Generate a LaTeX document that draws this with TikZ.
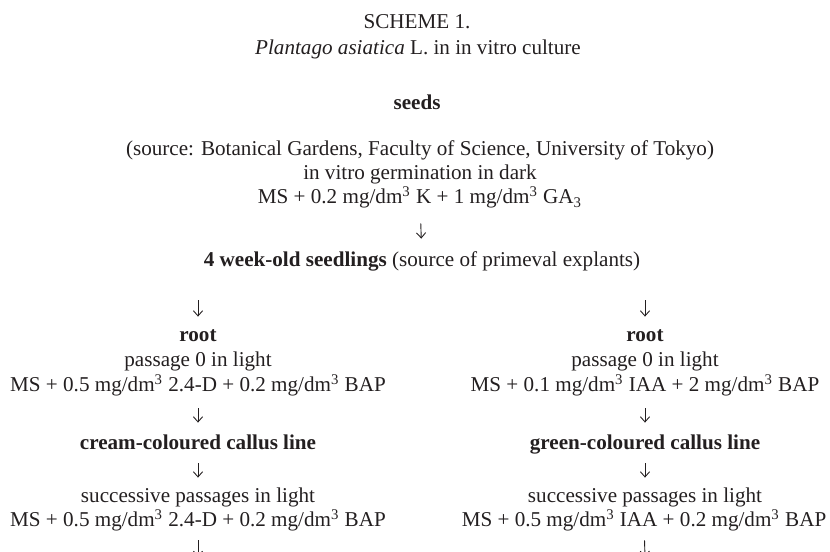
\documentclass[tikz,border=0pt]{standalone}
\usepackage{fontspec}
\setmainfont{Liberation Serif}
\usepackage{tikz}
\usetikzlibrary{arrows.meta}

\definecolor{ink}{RGB}{35,31,32}
\newcommand{\mgdm}{mg/dm\textsuperscript{3}}

\begin{document}
\begin{tikzpicture}[x=0.5bp, y=-0.5bp, >={Straight Barb[length=2.6bp, width=4.6bp]},
    txt/.style={inner sep=0pt, anchor=base, text height=7.5bp, text depth=2.5bp,
                text=ink, font=\fontsize{10.6}{12.5}\selectfont},
    flow/.style={->, draw=ink, line width=0.45bp}]
    \useasboundingbox (0,0) rectangle (830,552);

    % Title
    \node[txt] (title) at (417,29) {SCHEME 1.};
    \node[txt] (sub) at (418,55) {\textit{Plantago asiatica} L. in in vitro culture};

    % Seeds and germination
    \node[txt] (seeds) at (417,110) {\textbf{seeds}};
    \node[txt] (src) at (420,156) {(source: Botanical Gardens, Faculty of Science, University of Tokyo)};
    \node[txt] (germ) at (420,180) {in vitro germination in dark};
    \node[txt] (gmed) at (420,204) {MS + 0.2 \mgdm{} K + 1 \mgdm{} GA\textsubscript{3}};
    \node[txt] (seedl) at (422,267) {\textbf{4 week-old seedlings} (source of primeval explants)};
    \draw[flow, shorten <=7bp, shorten >=6.5bp] (gmed) -- (seedl);

    % Left branch
    \node[txt] (rootL) at (198,342) {\textbf{root}};
    \node[txt] (passL) at (198,367) {passage 0 in light};
    \node[txt] (msL) at (198,392) {MS + 0.5 \mgdm{} 2.4-D + 0.2 \mgdm{} BAP};
    \node[txt] (creamL) at (198,450) {\textbf{cream-coloured callus line}};
    \node[txt] (succL) at (198,503) {successive passages in light};
    \node[txt] (msL2) at (198,527) {MS + 0.5 \mgdm{} 2.4-D + 0.2 \mgdm{} BAP};
    \coordinate (endL) at (198,557);

    % Right branch
    \node[txt] (rootR) at (645,342) {\textbf{root}};
    \node[txt] (passR) at (645,367) {passage 0 in light};
    \node[txt] (msR) at (645,392) {MS + 0.1 \mgdm{} IAA + 2 \mgdm{} BAP};
    \node[txt] (greenR) at (645,450) {\textbf{green-coloured callus line}};
    \node[txt] (succR) at (645,503) {successive passages in light};
    \node[txt] (msR2) at (644,527) {MS + 0.5 \mgdm{} IAA + 0.2 \mgdm{} BAP};
    \coordinate (endR) at (645,557);

    % Arrows down both branches
    \draw[flow, shorten <=14bp, shorten >=5bp] (seedl.south -| rootL) -- (rootL);
    \draw[flow, shorten <=14bp, shorten >=5bp] (seedl.south -| rootR) -- (rootR);
    \draw[flow, shorten <=5.5bp, shorten >=6bp] (msL) -- (creamL);
    \draw[flow, shorten <=5.5bp, shorten >=6bp] (msR) -- (greenR);
    \draw[flow, shorten <=4bp, shorten >=5bp] (creamL) -- (succL);
    \draw[flow, shorten <=4bp, shorten >=5bp] (greenR) -- (succR);
    \draw[flow, shorten <=4bp] (msL2) -- (endL);
    \draw[flow, shorten <=4bp] (msR2) -- (endR);
\end{tikzpicture}
\end{document}
